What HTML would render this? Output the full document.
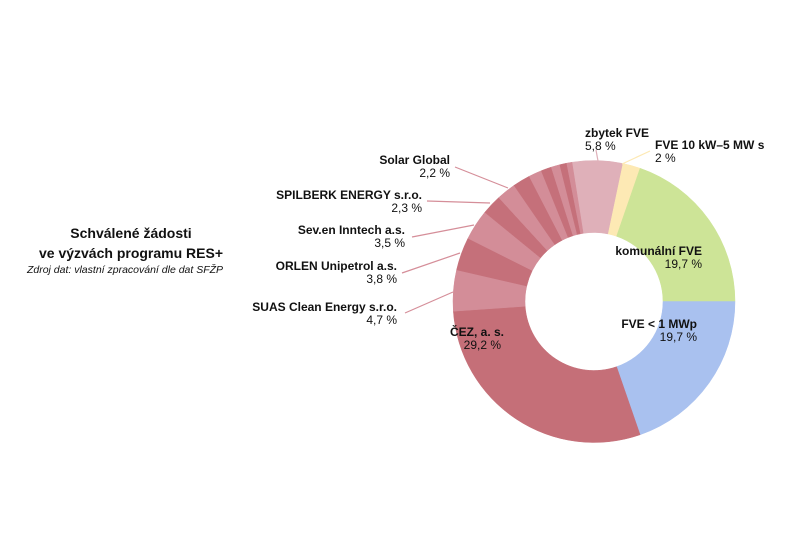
<!DOCTYPE html>
<html><head><meta charset="utf-8"><style>
body{margin:0;background:#fff;width:794px;height:550px;overflow:hidden}
svg text{font-family:"Liberation Sans",sans-serif;font-size:12px;fill:#111}
.b{font-weight:bold}
</style></head><body>
<svg id="s" width="794" height="550" xmlns="http://www.w3.org/2000/svg">
<g id="pie"></g>
<g stroke="#d58e99" stroke-width="1.2">
<line x1="455" y1="167" x2="508" y2="188"/>
<line x1="427" y1="201" x2="490" y2="203"/>
<line x1="412" y1="237" x2="474" y2="225"/>
<line x1="402" y1="273" x2="460" y2="253"/>
<line x1="405" y1="313" x2="453" y2="292"/>
<line x1="596" y1="150" x2="598" y2="161" stroke="#dfb0b9"/>
<line x1="650" y1="151" x2="622" y2="164" stroke="#fde9b4"/>
</g>
<g text-anchor="end">
<text x="450" y="164" class="b">Solar Global</text><text x="450" y="177">2,2 %</text>
<text x="422" y="199" class="b">SPILBERK ENERGY s.r.o.</text><text x="422" y="212">2,3 %</text>
<text x="405" y="234" class="b">Sev.en Inntech a.s.</text><text x="405" y="247">3,5 %</text>
<text x="397" y="270" class="b">ORLEN Unipetrol a.s.</text><text x="397" y="283">3,8 %</text>
<text x="397" y="311" class="b">SUAS Clean Energy s.r.o.</text><text x="397" y="324">4,7 %</text>
<text x="702" y="255" class="b">komunální FVE</text><text x="702" y="268">19,7 %</text>
<text x="697" y="328" class="b">FVE &lt; 1 MWp</text><text x="697" y="341">19,7 %</text>
<text x="501" y="349">29,2 %</text>
</g>
<text x="450" y="336" class="b">ČEZ, a. s.</text>
<text x="585" y="137" class="b">zbytek FVE</text><text x="585" y="150">5,8 %</text>
<text x="655" y="149" class="b">FVE 10 kW–5 MW s</text><text x="655" y="162">2 %</text>
<text x="131" y="238" text-anchor="middle" class="b" style="font-size:14px">Schválené žádosti</text>
<text x="131" y="258" text-anchor="middle" class="b" style="font-size:14px">ve výzvách programu RES+</text>
<text x="125" y="273" text-anchor="middle" style="font-size:10.5px;font-style:italic">Zdroj dat: vlastní zpracování dle dat SFŽP</text>
</svg>
<script>
var cx=594,cy=301.5,R=141,r=69;
var d=[[5.8,"#dfb0b9"],[2,"#fde9b4"],[19.7,"#cde497"],[19.7,"#a9c1ef"],[29.2,"#c56f78"],[4.7,"#d38d98"],[3.8,"#c5707a"],[3.5,"#d38d98"],[2.3,"#c5707a"],[2.2,"#d38d98"],[2.0,"#c5707a"],[1.5,"#d38d98"],[1.2,"#c5707a"],[1.0,"#d38d98"],[0.8,"#c5707a"],[0.6,"#d38d98"]];
var a=-9,g=document.getElementById("pie"),h="";
function p(ang,rad){var t=(ang-90)*Math.PI/180;return (cx+rad*Math.cos(t)).toFixed(2)+","+(cy+rad*Math.sin(t)).toFixed(2);}
d.forEach(function(s){var e=a+s[0]*3.6,l=(e-a)>180?1:0;
h+='<path fill="'+s[1]+'" stroke="'+s[1]+'" stroke-width="0.5" d="M'+p(a,R)+' A'+R+','+R+' 0 '+l+' 1 '+p(e,R)+' L'+p(e,r)+' A'+r+','+r+' 0 '+l+' 0 '+p(a,r)+'Z"/>';a=e;});
g.innerHTML=h;
</script>
</body></html>
